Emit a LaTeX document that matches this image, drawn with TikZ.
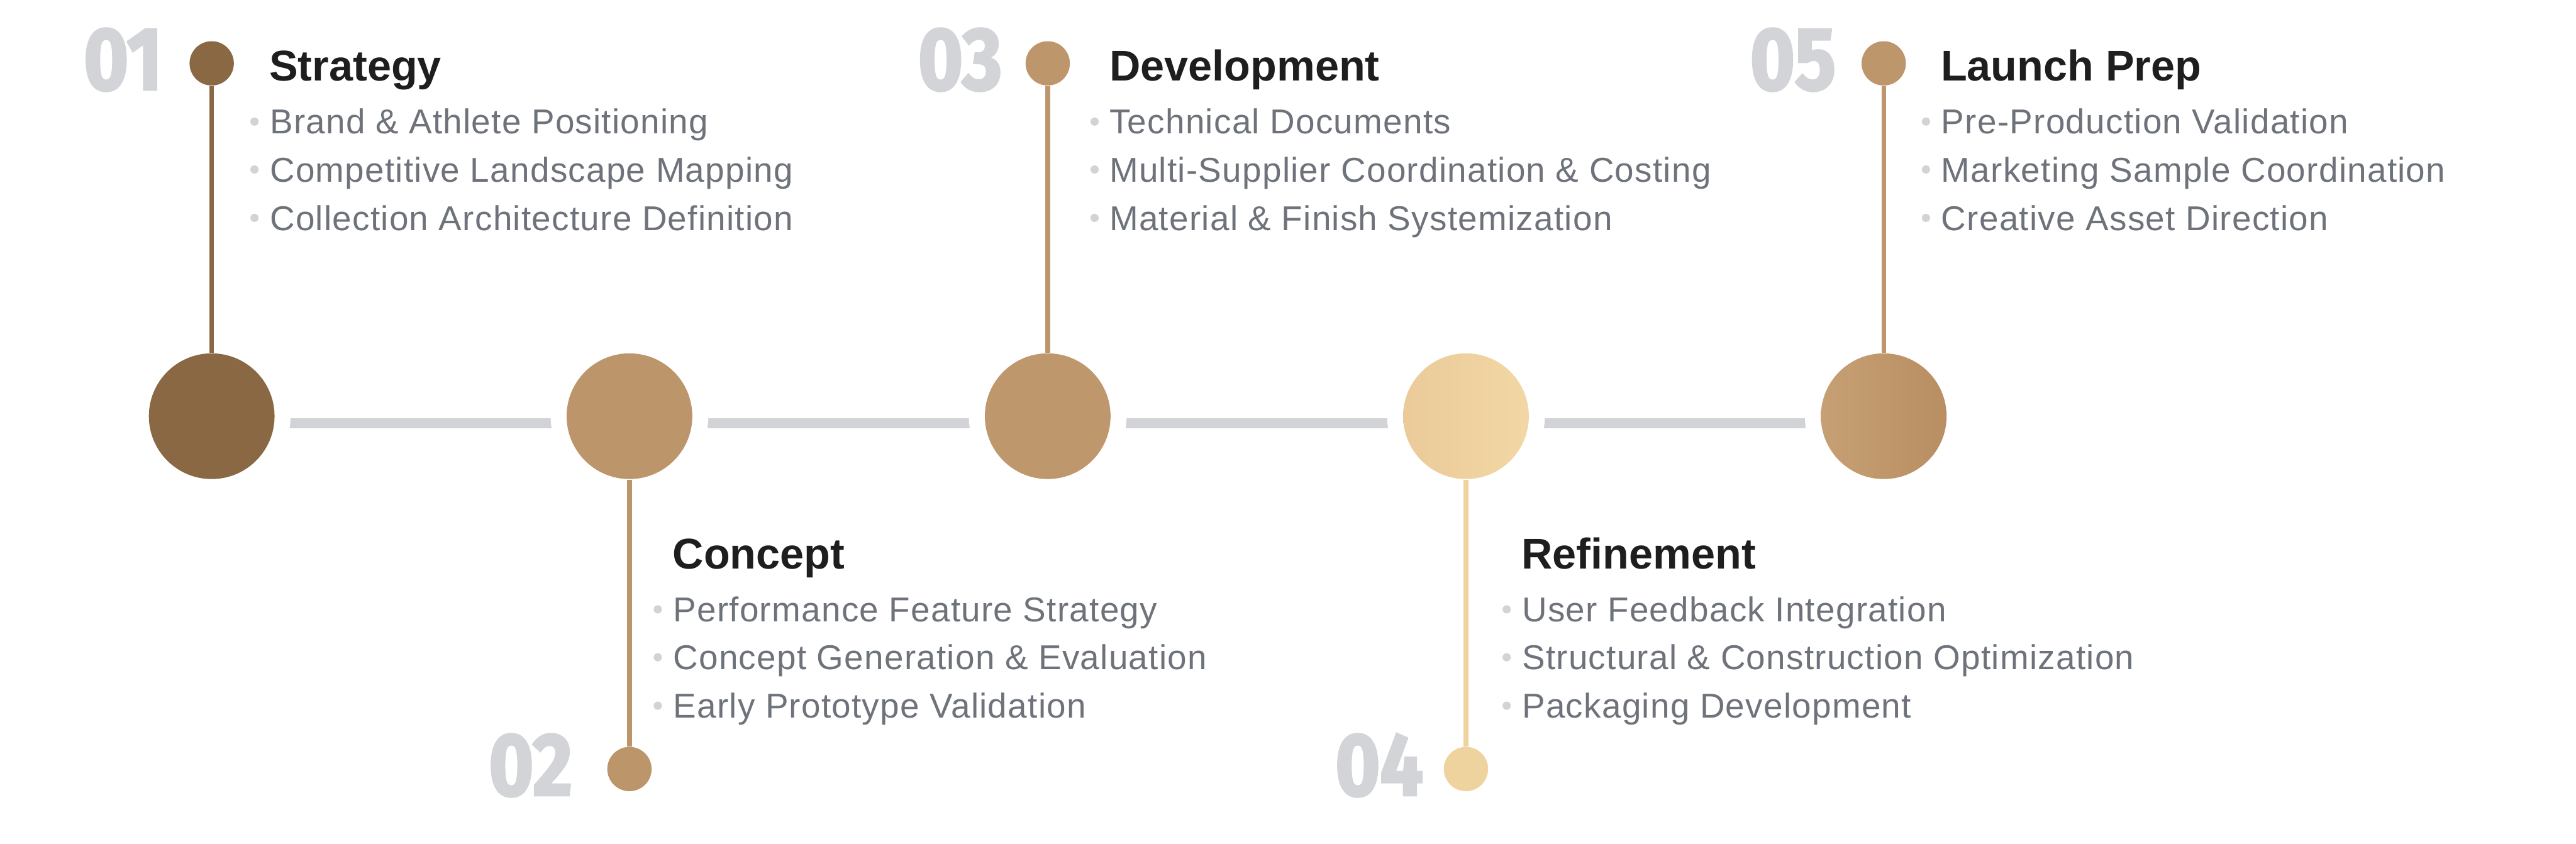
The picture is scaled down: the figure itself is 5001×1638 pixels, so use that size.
\documentclass[tikz,border=0pt]{standalone}
\usepackage{fontspec}
\setmainfont{Liberation Sans}
\newfontfamily\itemfont{Liberation Sans}[LetterSpace=2.3]
\newfontfamily\numfont{Fira Sans}[FakeStretch=0.86, FakeBold=2.5]
\definecolor{cA}{HTML}{8B6844}
\definecolor{cB}{HTML}{BD956A}
\definecolor{cC}{HTML}{BF976C}
\definecolor{cDl}{HTML}{EACB99}
\definecolor{cDr}{HTML}{F2D7A5}
\definecolor{cEl}{HTML}{C6A074}
\definecolor{cEr}{HTML}{B88E62}
\definecolor{sC}{HTML}{BE966B}
\definecolor{sD}{HTML}{EFD39F}
\definecolor{barg}{HTML}{D2D3D7}
\definecolor{numg}{HTML}{D3D4D8}
\definecolor{dotg}{HTML}{D2D3D7}
\definecolor{itmc}{HTML}{6E727A}
\definecolor{ttlc}{HTML}{1E1E1E}
\pgfdeclarelayer{bg}
\pgfdeclarelayer{halo}
\pgfsetlayers{bg,halo,main}
\tikzset{
  mainc/.style={circle, inner sep=0pt, minimum size=48.8pt},
  smallc/.style={circle, inner sep=0pt, minimum size=17.2pt},
  stemline/.style={line width=1.8pt},
  barline/.style={line width=3.8pt, draw=barg},
  num/.style={anchor=base east, inner sep=0pt, text=numg, font=\numfont\bfseries\fontsize{34.5}{34.5}\selectfont},
  ttl/.style={anchor=base west, inner sep=0pt, text=ttlc, font=\bfseries\fontsize{16.7}{20}\selectfont},
  itm/.style={anchor=base west, inner sep=0pt, text=itmc, font=\itemfont\fontsize{13.4}{16}\selectfont},
  bdot/.style={circle, fill=dotg, inner sep=0pt, minimum size=3.2pt}
}
\begin{document}
\begin{tikzpicture}[x=0.2pt,y=-0.2pt]
\useasboundingbox (0,0) rectangle (5001,1638);
% main circles
\node[mainc, fill=cA] (m1) at (411,808) {};
\node[mainc, fill=cB] (m2) at (1222,808) {};
\node[mainc, fill=cC] (m3) at (2034,808) {};
\node[mainc, left color=cDl, right color=cDr] (m4) at (2846,808) {};
\node[mainc, left color=cEl, right color=cEr] (m5) at (3657,808) {};
% small circles
\node[smallc, fill=cA] (s1) at (411,123) {};
\node[smallc, fill=cB] (s2) at (1222,1493) {};
\node[smallc, fill=sC] (s3) at (2034,123) {};
\node[smallc, fill=sD] (s4) at (2846,1493) {};
\node[smallc, fill=sC] (s5) at (3657,123) {};
% stems
\draw[stemline, draw=cA] (s1) -- (m1);
\draw[stemline, draw=cB] (s2) -- (m2);
\draw[stemline, draw=sC] (s3) -- (m3);
\draw[stemline, draw=sD] (s4) -- (m4);
\draw[stemline, draw=sC] (s5) -- (m5);
% bar and halos
\begin{pgfonlayer}{bg}
\draw[barline] ([yshift=-2.7pt]m1.center) -- ([yshift=-2.7pt]m5.center);
\end{pgfonlayer}
\begin{pgfonlayer}{halo}
\foreach \m in {m1,m2,m3,m4,m5} \fill[white] (\m.center) circle[radius=153];
\end{pgfonlayer}
% numbers
\node[num] (n1) at (316,174) {01};
\node[num] (n2) at (1112,1544) {02};
\node[num] (n3) at (1946,174) {03};
\node[num] (n4) at (2764,1544) {04};
\node[num] (n5) at (3565,174) {05};
% stage 1
\node[ttl] (t1) at (522,157) {Strategy};
\node[bdot] (d11) at (494,236) {};
\node[bdot] (d12) at (494,329) {};
\node[bdot] (d13) at (494,423) {};
\node[itm] (i11) at (523,260) {Brand \& Athlete Positioning};
\node[itm] (i12) at (523,353) {Competitive Landscape Mapping};
\node[itm] (i13) at (523,447) {Collection Architecture Definition};
% stage 2
\node[ttl] (t2) at (1305,1104) {Concept};
\node[bdot] (d21) at (1277,1183) {};
\node[bdot] (d22) at (1277,1276) {};
\node[bdot] (d23) at (1277,1370) {};
\node[itm] (i21) at (1306,1207) {Performance Feature Strategy};
\node[itm] (i22) at (1306,1300) {Concept Generation \& Evaluation};
\node[itm] (i23) at (1306,1394) {Early Prototype Validation};
% stage 3
\node[ttl] (t3) at (2153,157) {Development};
\node[bdot] (d31) at (2125,236) {};
\node[bdot] (d32) at (2125,329) {};
\node[bdot] (d33) at (2125,423) {};
\node[itm] (i31) at (2153,260) {Technical Documents};
\node[itm] (i32) at (2153,353) {Multi-Supplier Coordination \& Costing};
\node[itm] (i33) at (2153,447) {Material \& Finish Systemization};
% stage 4
\node[ttl] (t4) at (2953,1104) {Refinement};
\node[bdot] (d41) at (2925,1183) {};
\node[bdot] (d42) at (2925,1276) {};
\node[bdot] (d43) at (2925,1370) {};
\node[itm] (i41) at (2954,1207) {User Feedback Integration};
\node[itm] (i42) at (2954,1300) {Structural \& Construction Optimization};
\node[itm] (i43) at (2954,1394) {Packaging Development};
% stage 5
\node[ttl] (t5) at (3767,157) {Launch Prep};
\node[bdot] (d51) at (3739,236) {};
\node[bdot] (d52) at (3739,329) {};
\node[bdot] (d53) at (3739,423) {};
\node[itm] (i51) at (3768,260) {Pre-Production Validation};
\node[itm] (i52) at (3768,353) {Marketing Sample Coordination};
\node[itm] (i53) at (3768,447) {Creative Asset Direction};
\end{tikzpicture}
\end{document}
